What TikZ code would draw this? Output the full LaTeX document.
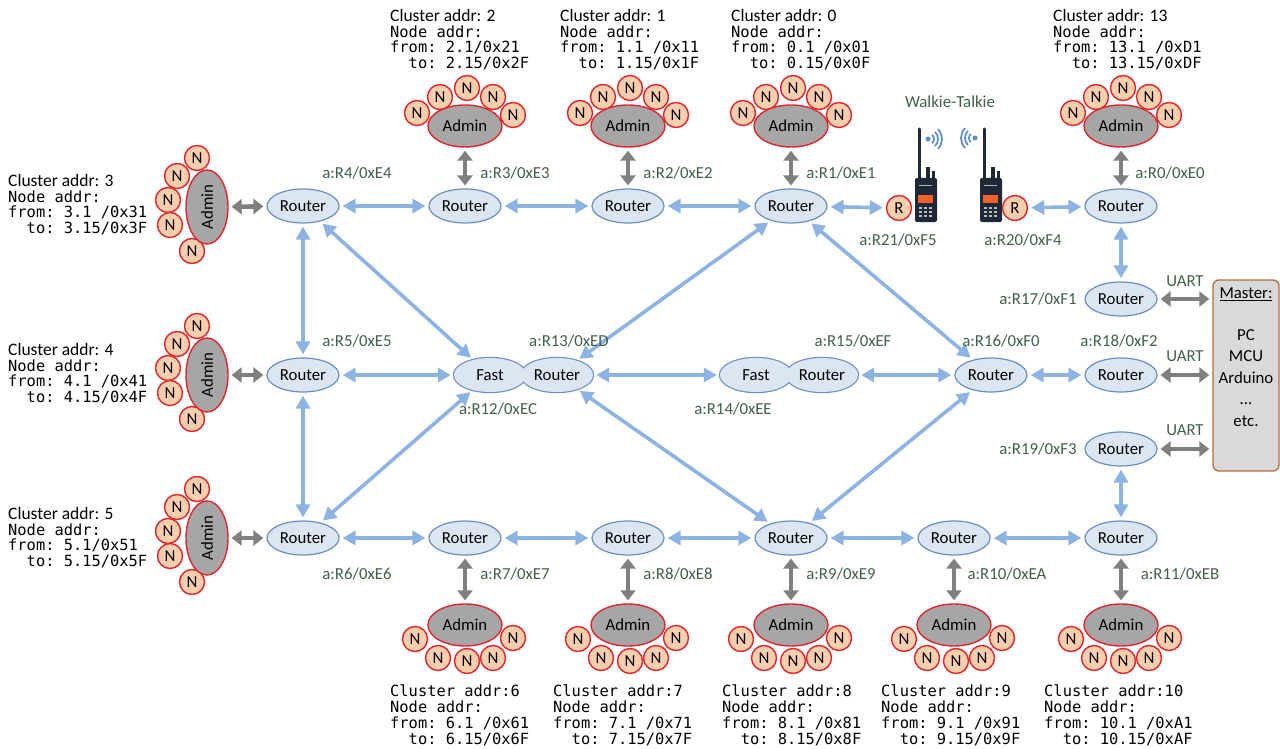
\documentclass[tikz,border=0pt]{standalone}
\usepackage{fontspec}
\setmainfont{Carlito}
\setmonofont{DejaVu Sans Mono}
\usepackage{xcolor}
\usepackage{tikz}
\usetikzlibrary{shapes.geometric, arrows.meta, positioning}

\definecolor{rfill}{HTML}{DCE6F2}
\definecolor{rline}{HTML}{6A8FC7}
\definecolor{ablue}{HTML}{8DB3E2}
\definecolor{agrey}{HTML}{808080}
\definecolor{npeach}{HTML}{FBCFAE}
\definecolor{nred}{HTML}{E3242B}
\definecolor{adgray}{HTML}{A6A6A6}
\definecolor{lgreen}{HTML}{3F6146}
\definecolor{mfill}{HTML}{D9D9D9}
\definecolor{mline}{HTML}{B0703F}
\definecolor{wbody}{HTML}{1E2836}
\definecolor{wscreen}{HTML}{F0602A}
\definecolor{wwave}{HTML}{5B8BD0}

\begin{document}
\begin{tikzpicture}[x=1pt, y=-1pt, font=\fontsize{16.8}{19}\selectfont,
    router/.style={ellipse, draw=rline, fill=rfill, line width=1.2pt, minimum width=72pt, minimum height=34pt, inner sep=0pt},
    half/.style={ellipse, minimum width=72pt, minimum height=34pt, inner sep=0pt},
    admin/.style={ellipse, draw=nred, fill=adgray, line width=1.4pt, minimum width=74pt, minimum height=42pt, inner sep=0pt},
    nd/.style={circle, draw=nred, fill=npeach, line width=1.4pt, minimum size=25pt, inner sep=0pt},
    addr/.style={text=lgreen, inner sep=0pt},
    info/.style={anchor=north west, align=left, inner sep=0pt, font=\ttfamily\fontsize{15.4}{15.7}\selectfont},
    link/.style={{Triangle[length=13pt,width=14pt]}-{Triangle[length=13pt,width=14pt]}, line width=3.6pt, draw=ablue, shorten <=3pt, shorten >=3pt},
    wire/.style={{Triangle[length=10pt,width=15pt]}-{Triangle[length=10pt,width=15pt]}, line width=4.6pt, draw=agrey, shorten <=3pt, shorten >=3pt},
]
    \useasboundingbox (0,0) rectangle (1280,749);

    % =================================================================
    % 1. CÁC ROUTER
    % =================================================================
    % hàng trên
    \node[router] (r4) at (303,206) {Router};
    \node[router] (r3) at (465,206) {Router};
    \node[router] (r2) at (628,206) {Router};
    \node[router] (r1) at (791,206) {Router};
    \node[router] (r0) at (1121,206) {Router};
    % hàng giữa
    \node[router] (r17) at (1121,299) {Router};
    \node[router] (r5) at (303,375) {Router};
    \node[router] (r16) at (991,375) {Router};
    \node[router] (r18) at (1121,375) {Router};
    \node[router] (r19) at (1121,449) {Router};
    % hàng dưới
    \node[router] (r6) at (303,538) {Router};
    \node[router] (r7) at (465,538) {Router};
    \node[router] (r8) at (628,538) {Router};
    \node[router] (r9) at (791,538) {Router};
    \node[router] (r10) at (954,538) {Router};
    \node[router] (r11) at (1121,538) {Router};

    % Fast Router: hai elip dính nhau
    \foreach \fx in {490,557,756,822}
        \draw[rline, line width=2.4pt] (\fx,375) ellipse [x radius=36, y radius=17];
    \foreach \fx in {490,557,756,822}
        \fill[rfill] (\fx,375) ellipse [x radius=36, y radius=17];
    \node[half] (f12) at (490,375) {Fast};
    \node[half] (r13) at (557,375) {Router};
    \node[half] (f14) at (756,375) {Fast};
    \node[half] (r15) at (822,375) {Router};

    % =================================================================
    % 2. WALKIE-TALKIE
    % =================================================================
    \foreach \wx in {919,984} {
        \draw[wbody, line width=3pt, line cap=round] (\wx,129) -- (\wx,180);
        \fill[wbody] (\wx+7,167) rectangle (\wx+11,180);
        \fill[wbody] (\wx+13,171) rectangle (\wx+16,180);
        \fill[wbody, rounded corners=2pt] (\wx-4,178) rectangle (\wx+18,222);
        \draw[gray!60, line width=0.8pt] (\wx,185) -- (\wx+13,185);
        \fill[wscreen] (\wx-1,195) rectangle (\wx+14,203);
        \foreach \kx in {0,5,10}
            \foreach \ky in {207,211,215}
                \fill[gray!55] (\wx+\kx,\ky) rectangle (\wx+\kx+3,\ky+2);
    }
    \fill[wwave] (928,139) circle (2.5);
    \fill[wwave] (975,138) circle (2.5);
    \foreach \rr in {6,10,14} {
        \draw[wwave, line width=1.7pt] (928,139) ++(-45:\rr) arc[start angle=-45, end angle=45, radius=\rr];
        \draw[wwave, line width=1.7pt] (975,138) ++(135:\rr) arc[start angle=135, end angle=225, radius=\rr];
    }
    \node[addr] (wt) at (950,102) {Walkie-Talkie};
    \node[nd] (r21) at (899,208) {R};
    \node[nd] (r20) at (1015,208) {R};

    % =================================================================
    % 3. MASTER
    % =================================================================
    \node[draw=mline, fill=mfill, rounded corners=6pt, line width=1.4pt,
          minimum width=66pt, minimum height=191pt] (master) at (1246,375.5) {};
    \node (mtitle) at (1246,294) {\underline{Master:}};
    \node[align=center, font=\fontsize{16.8}{21.5}\selectfont] (mlist) at (1246,378) {PC\\MCU\\Arduino\\...\\etc.};

    % =================================================================
    % 4. CÁC CLUSTER (Admin + N)
    % =================================================================
    \foreach \ax/\c/\r in {465/2/3, 628/1/2, 791/0/1, 1121/13/0} {
        \foreach \dx/\dy [count=\i] in {-48/-13, -25/-29, 2/-38, 28/-29, 48/-11}
            \node[nd] (n\c-\i) at ({\ax+\dx},{126+\dy}) {N};
        \node[admin] (adm\c) at (\ax,126) {Admin};
        \draw[wire] (adm\c) -- (r\r);
    }
    \foreach \ay/\c/\r in {207/3/4, 375/4/5, 538/5/6} {
        \foreach \dx/\dy [count=\i] in {-10/-49, -30/-31, -39/-7, -37/18, -15/44}
            \node[nd] (n\c-\i) at ({207+\dx},{\ay+\dy}) {N};
        \node[admin, rotate=90] (adm\c) at (207,\ay) {Admin};
        \draw[wire] (adm\c) -- (r\r);
    }
    \foreach \ax/\c/\r in {465/6/7, 628/7/8, 791/8/9, 954/9/10, 1121/10/11} {
        \foreach \dx/\dy [count=\i] in {-50/14, -27/33, 2/36, 28/33, 48/13}
            \node[nd] (n\c-\i) at ({\ax+\dx},{625+\dy}) {N};
        \node[admin] (adm\c) at (\ax,625) {Admin};
        \draw[wire] (r\r) -- (adm\c);
    }

    % =================================================================
    % 5. CÁC MŨI TÊN GIỮA ROUTER
    % =================================================================
    \draw[link] (r4) -- (r3);
    \draw[link] (r3) -- (r2);
    \draw[link] (r2) -- (r1);
    \draw[link] (r1) -- (r21);
    \draw[link] (r20) -- (r0);
    \draw[link] (r4) -- (r5);
    \draw[link] (r5) -- (r6);
    \draw[link] (r4) -- (f12);
    \draw[link] (r5) -- (f12);
    \draw[link] (r6) -- (f12);
    \draw[link] (r13) -- (r1);
    \draw[link] (r13) -- (r9);
    \draw[link] (r13) -- (f14);
    \draw[link] (r15) -- (r16);
    \draw[link] (r1) -- (r16);
    \draw[link] (r9) -- (r16);
    \draw[link] (r16) -- (r18);
    \draw[link] (r0) -- (r17);
    \draw[link] (r19) -- (r11);
    \draw[link] (r6) -- (r7);
    \draw[link] (r7) -- (r8);
    \draw[link] (r8) -- (r9);
    \draw[link] (r9) -- (r10);
    \draw[link] (r10) -- (r11);

    % UART tới Master
    \draw[wire] (r17) -- (r17 -| master.west);
    \draw[wire] (r18) -- (r18 -| master.west);
    \draw[wire] (r19) -- (r19 -| master.west);
    \node[addr] (u17) at (1185,281) {UART};
    \node[addr] (u18) at (1185,356) {UART};
    \node[addr] (u19) at (1185,430) {UART};

    % =================================================================
    % 6. NHÃN ĐỊA CHỈ ROUTER
    % =================================================================
    \node[addr] (a4) at (357,173) {a:R4/0xE4};
    \node[addr] (a3) at (515,173) {a:R3/0xE3};
    \node[addr] (a2) at (678,173) {a:R2/0xE2};
    \node[addr] (a1) at (841,173) {a:R1/0xE1};
    \node[addr] (a0) at (1170,173) {a:R0/0xE0};
    \node[addr] (a21) at (898,240) {a:R21/0xF5};
    \node[addr] (a20) at (1023,240) {a:R20/0xF4};
    \node[addr] (a17) at (1038,299) {a:R17/0xF1};
    \node[addr] (a5) at (357,341) {a:R5/0xE5};
    \node[addr] (a13) at (569,341) {a:R13/0xED};
    \node[addr] (a12) at (498,409) {a:R12/0xEC};
    \node[addr] (a15) at (853,341) {a:R15/0xEF};
    \node[addr] (a14) at (733,409) {a:R14/0xEE};
    \node[addr] (a16) at (1001,341) {a:R16/0xF0};
    \node[addr] (a18) at (1119,341) {a:R18/0xF2};
    \node[addr] (a19) at (1038,449) {a:R19/0xF3};
    \node[addr] (a6) at (357,574) {a:R6/0xE6};
    \node[addr] (a7) at (515,574) {a:R7/0xE7};
    \node[addr] (a8) at (678,574) {a:R8/0xE8};
    \node[addr] (a9) at (841,574) {a:R9/0xE9};
    \node[addr] (a10) at (1007,574) {a:R10/0xEA};
    \node[addr] (a11) at (1180,574) {a:R11/0xEB};

    % =================================================================
    % 7. ĐỊA CHỈ CÁC CLUSTER
    % =================================================================
    \node[info] (t2) at (390,9) {{\rmfamily\fontsize{17.5}{15.7}\selectfont Cluster addr: 2}\\Node addr:\\from: 2.1/0x21\\\phantom{fr}to: 2.15/0x2F};
    \node[info] (t1) at (560,9) {{\rmfamily\fontsize{17.5}{15.7}\selectfont Cluster addr: 1}\\Node addr:\\from: 1.1 /0x11\\\phantom{fr}to: 1.15/0x1F};
    \node[info] (t0) at (731,9) {{\rmfamily\fontsize{17.5}{15.7}\selectfont Cluster addr: 0}\\Node addr:\\from: 0.1 /0x01\\\phantom{fr}to: 0.15/0x0F};
    \node[info] (t13) at (1053,9) {{\rmfamily\fontsize{17.5}{15.7}\selectfont Cluster addr: 13}\\Node addr:\\from: 13.1 /0xD1\\\phantom{fr}to: 13.15/0xDF};
    \node[info] (t3) at (8,174) {{\rmfamily\fontsize{17.5}{15.7}\selectfont Cluster addr: 3}\\Node addr:\\from: 3.1 /0x31\\\phantom{fr}to: 3.15/0x3F};
    \node[info] (t4) at (8,343) {{\rmfamily\fontsize{17.5}{15.7}\selectfont Cluster addr: 4}\\Node addr:\\from: 4.1 /0x41\\\phantom{fr}to: 4.15/0x4F};
    \node[info] (t5) at (8,507) {{\rmfamily\fontsize{17.5}{15.7}\selectfont Cluster addr: 5}\\Node addr:\\from: 5.1/0x51\\\phantom{fr}to: 5.15/0x5F};
    \node[info] (t6) at (390,685) {Cluster addr:6\\Node addr:\\from: 6.1 /0x61\\\phantom{fr}to: 6.15/0x6F};
    \node[info] (t7) at (553,685) {Cluster addr:7\\Node addr:\\from: 7.1 /0x71\\\phantom{fr}to: 7.15/0x7F};
    \node[info] (t8) at (722,685) {Cluster addr:8\\Node addr:\\from: 8.1 /0x81\\\phantom{fr}to: 8.15/0x8F};
    \node[info] (t9) at (881,685) {Cluster addr:9\\Node addr:\\from: 9.1 /0x91\\\phantom{fr}to: 9.15/0x9F};
    \node[info] (t10) at (1044,685) {Cluster addr:10\\Node addr:\\from: 10.1 /0xA1\\\phantom{fr}to: 10.15/0xAF};

\end{tikzpicture}
\end{document}
